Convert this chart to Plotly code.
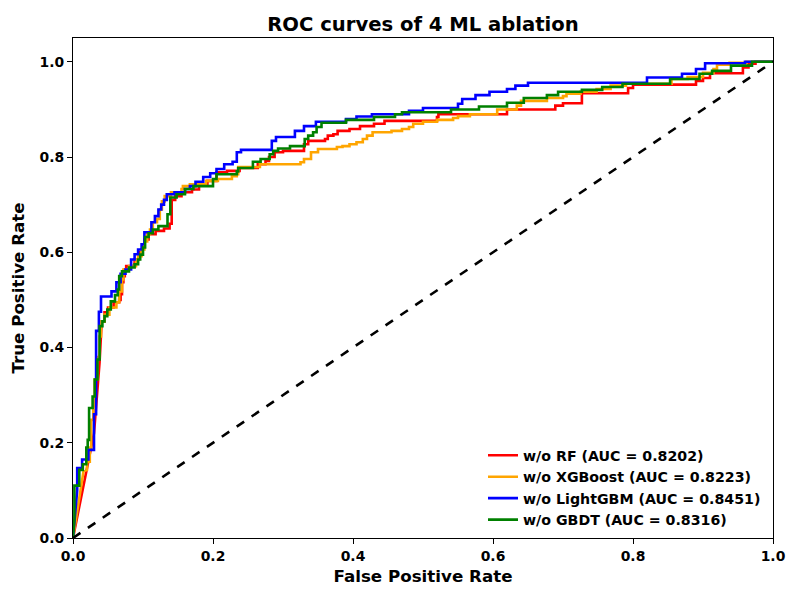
import plotly.graph_objects as go

names = ["w/o RF (AUC = 0.8202)", "w/o XGBoost (AUC = 0.8223)",
         "w/o LightGBM (AUC = 0.8451)", "w/o GBDT (AUC = 0.8316)"]
colors = ["red", "orange", "blue", "green"]

rf_fpr = [0, 0.03, 0.038, 0.041, 0.045, 0.045, 0.05, 0.05, 0.058, 0.058, 0.066, 0.066, 0.068, 0.068, 0.07, 0.07, 0.072, 0.072, 0.074, 0.074, 0.076, 0.076, 0.088, 0.088, 0.094, 0.094, 0.099, 0.099, 0.102, 0.102, 0.108, 0.108, 0.118, 0.118, 0.13, 0.13, 0.138, 0.138, 0.141, 0.141, 0.146, 0.146, 0.155, 0.155, 0.17, 0.17, 0.18, 0.18, 0.192, 0.192, 0.205, 0.205, 0.22, 0.22, 0.238, 0.238, 0.264, 0.264, 0.275, 0.275, 0.28, 0.28, 0.288, 0.288, 0.3, 0.3, 0.33, 0.33, 0.336, 0.336, 0.36, 0.36, 0.364, 0.364, 0.372, 0.372, 0.378, 0.378, 0.395, 0.395, 0.41, 0.41, 0.43, 0.43, 0.445, 0.445, 0.52, 0.52, 0.522, 0.522, 0.62, 0.62, 0.689, 0.689, 0.7, 0.7, 0.727, 0.727, 0.793, 0.793, 0.8, 0.8, 0.89, 0.89, 0.9, 0.9, 0.91, 0.91, 0.957, 0.957, 0.965, 0.965, 0.975, 0.975, 1.0]
rf_tpr = [0, 0.22, 0.37, 0.455, 0.455, 0.474, 0.474, 0.484, 0.484, 0.495, 0.495, 0.5, 0.5, 0.512, 0.512, 0.537, 0.537, 0.55, 0.55, 0.564, 0.564, 0.571, 0.571, 0.585, 0.585, 0.6, 0.6, 0.613, 0.613, 0.627, 0.627, 0.638, 0.638, 0.645, 0.645, 0.65, 0.65, 0.66, 0.66, 0.71, 0.71, 0.718, 0.718, 0.726, 0.726, 0.732, 0.732, 0.743, 0.743, 0.75, 0.75, 0.768, 0.768, 0.771, 0.771, 0.777, 0.777, 0.785, 0.785, 0.792, 0.792, 0.8, 0.8, 0.81, 0.81, 0.813, 0.813, 0.827, 0.827, 0.834, 0.834, 0.838, 0.838, 0.845, 0.845, 0.848, 0.848, 0.855, 0.855, 0.859, 0.859, 0.865, 0.865, 0.87, 0.87, 0.876, 0.876, 0.884, 0.884, 0.89, 0.89, 0.9, 0.9, 0.908, 0.908, 0.913, 0.913, 0.934, 0.934, 0.945, 0.945, 0.952, 0.952, 0.96, 0.96, 0.966, 0.966, 0.976, 0.976, 0.988, 0.988, 0.996, 0.996, 1.0, 1.0]

xgb_fpr = [0, 0.015, 0.02, 0.02, 0.024, 0.024, 0.026, 0.026, 0.029, 0.029, 0.031, 0.031, 0.035, 0.035, 0.038, 0.038, 0.04, 0.04, 0.045, 0.045, 0.052, 0.052, 0.062, 0.062, 0.066, 0.066, 0.07, 0.07, 0.072, 0.072, 0.08, 0.08, 0.09, 0.09, 0.093, 0.093, 0.098, 0.098, 0.102, 0.102, 0.106, 0.106, 0.11, 0.11, 0.114, 0.114, 0.12, 0.12, 0.124, 0.124, 0.127, 0.127, 0.131, 0.131, 0.14, 0.14, 0.155, 0.155, 0.157, 0.157, 0.167, 0.167, 0.19, 0.19, 0.207, 0.207, 0.227, 0.227, 0.234, 0.234, 0.236, 0.236, 0.267, 0.267, 0.325, 0.325, 0.33, 0.33, 0.34, 0.34, 0.35, 0.35, 0.377, 0.377, 0.385, 0.385, 0.395, 0.395, 0.405, 0.405, 0.414, 0.414, 0.42, 0.42, 0.428, 0.428, 0.455, 0.455, 0.47, 0.47, 0.48, 0.48, 0.486, 0.486, 0.5, 0.5, 0.52, 0.52, 0.543, 0.543, 0.55, 0.55, 0.567, 0.567, 0.606, 0.606, 0.634, 0.634, 0.64, 0.64, 0.677, 0.677, 0.7, 0.7, 0.705, 0.705, 0.725, 0.725, 0.748, 0.748, 0.768, 0.768, 0.79, 0.79, 0.855, 0.855, 0.878, 0.878, 0.9, 0.9, 0.915, 0.915, 0.92, 0.92, 0.938, 0.938, 0.962, 0.962, 1.0]
xgb_tpr = [0, 0.14, 0.143, 0.16, 0.16, 0.19, 0.19, 0.248, 0.248, 0.276, 0.276, 0.333, 0.333, 0.38, 0.38, 0.423, 0.423, 0.455, 0.455, 0.469, 0.469, 0.484, 0.484, 0.495, 0.495, 0.518, 0.518, 0.543, 0.543, 0.564, 0.564, 0.571, 0.571, 0.585, 0.585, 0.592, 0.592, 0.606, 0.606, 0.623, 0.623, 0.638, 0.638, 0.648, 0.648, 0.663, 0.663, 0.67, 0.67, 0.69, 0.69, 0.707, 0.707, 0.718, 0.718, 0.726, 0.726, 0.733, 0.733, 0.739, 0.739, 0.743, 0.743, 0.75, 0.75, 0.754, 0.754, 0.76, 0.76, 0.764, 0.764, 0.779, 0.779, 0.785, 0.785, 0.789, 0.789, 0.796, 0.796, 0.81, 0.81, 0.817, 0.817, 0.821, 0.821, 0.823, 0.823, 0.827, 0.827, 0.831, 0.831, 0.838, 0.838, 0.845, 0.845, 0.852, 0.852, 0.855, 0.855, 0.859, 0.859, 0.863, 0.863, 0.87, 0.87, 0.874, 0.874, 0.878, 0.878, 0.882, 0.882, 0.886, 0.886, 0.89, 0.89, 0.9, 0.9, 0.908, 0.908, 0.918, 0.918, 0.924, 0.924, 0.928, 0.928, 0.933, 0.933, 0.937, 0.937, 0.943, 0.943, 0.95, 0.95, 0.954, 0.954, 0.964, 0.964, 0.968, 0.968, 0.977, 0.977, 0.985, 0.985, 0.994, 0.994, 0.998, 0.998, 1.0, 1.0]

lgbm_fpr = [0, 0.006, 0.006, 0.013, 0.013, 0.022, 0.022, 0.03, 0.03, 0.033, 0.033, 0.037, 0.037, 0.04, 0.04, 0.055, 0.055, 0.062, 0.062, 0.068, 0.068, 0.075, 0.075, 0.083, 0.083, 0.088, 0.088, 0.093, 0.093, 0.098, 0.098, 0.102, 0.102, 0.112, 0.112, 0.117, 0.117, 0.122, 0.122, 0.126, 0.126, 0.13, 0.13, 0.134, 0.134, 0.145, 0.145, 0.16, 0.16, 0.167, 0.167, 0.175, 0.175, 0.186, 0.186, 0.196, 0.196, 0.205, 0.205, 0.216, 0.216, 0.228, 0.228, 0.234, 0.234, 0.24, 0.24, 0.284, 0.284, 0.29, 0.29, 0.317, 0.317, 0.33, 0.33, 0.347, 0.347, 0.39, 0.39, 0.405, 0.405, 0.427, 0.427, 0.48, 0.48, 0.5, 0.5, 0.55, 0.55, 0.556, 0.556, 0.575, 0.575, 0.595, 0.595, 0.62, 0.62, 0.632, 0.632, 0.65, 0.65, 0.82, 0.82, 0.87, 0.87, 0.89, 0.89, 0.903, 0.903, 0.96, 0.96, 1.0]
lgbm_tpr = [0, 0.1, 0.147, 0.147, 0.165, 0.165, 0.185, 0.185, 0.26, 0.26, 0.435, 0.435, 0.475, 0.475, 0.507, 0.507, 0.518, 0.518, 0.537, 0.537, 0.555, 0.555, 0.564, 0.564, 0.585, 0.585, 0.596, 0.596, 0.606, 0.606, 0.617, 0.617, 0.642, 0.642, 0.663, 0.663, 0.676, 0.676, 0.69, 0.69, 0.7, 0.7, 0.71, 0.71, 0.722, 0.722, 0.726, 0.726, 0.733, 0.733, 0.739, 0.739, 0.748, 0.748, 0.758, 0.758, 0.766, 0.766, 0.775, 0.775, 0.785, 0.785, 0.79, 0.79, 0.81, 0.81, 0.815, 0.815, 0.834, 0.834, 0.842, 0.842, 0.855, 0.855, 0.865, 0.865, 0.874, 0.874, 0.88, 0.88, 0.885, 0.885, 0.89, 0.89, 0.897, 0.897, 0.903, 0.903, 0.912, 0.912, 0.922, 0.922, 0.93, 0.93, 0.937, 0.937, 0.943, 0.943, 0.95, 0.95, 0.956, 0.956, 0.967, 0.967, 0.975, 0.975, 0.985, 0.985, 0.997, 0.997, 1.0, 1.0]

gbdt_fpr = [0, 0.002, 0.002, 0.009, 0.009, 0.014, 0.014, 0.019, 0.019, 0.021, 0.021, 0.023, 0.023, 0.028, 0.028, 0.031, 0.031, 0.035, 0.035, 0.038, 0.038, 0.042, 0.042, 0.045, 0.045, 0.049, 0.049, 0.054, 0.054, 0.06, 0.06, 0.064, 0.064, 0.066, 0.066, 0.07, 0.07, 0.08, 0.08, 0.088, 0.088, 0.093, 0.093, 0.096, 0.096, 0.1, 0.1, 0.103, 0.103, 0.108, 0.108, 0.114, 0.114, 0.122, 0.122, 0.135, 0.135, 0.139, 0.139, 0.148, 0.148, 0.16, 0.16, 0.172, 0.172, 0.2, 0.2, 0.205, 0.205, 0.234, 0.234, 0.236, 0.236, 0.257, 0.257, 0.268, 0.268, 0.281, 0.281, 0.286, 0.286, 0.293, 0.293, 0.31, 0.31, 0.331, 0.331, 0.336, 0.336, 0.343, 0.343, 0.348, 0.348, 0.355, 0.355, 0.39, 0.39, 0.43, 0.43, 0.46, 0.46, 0.47, 0.47, 0.54, 0.54, 0.58, 0.58, 0.62, 0.62, 0.644, 0.644, 0.677, 0.677, 0.693, 0.693, 0.727, 0.727, 0.756, 0.756, 0.785, 0.785, 0.853, 0.853, 0.895, 0.895, 0.913, 0.913, 0.94, 0.94, 0.97, 0.97, 1.0]
gbdt_tpr = [0, 0.04, 0.11, 0.11, 0.143, 0.143, 0.155, 0.155, 0.19, 0.19, 0.206, 0.206, 0.273, 0.273, 0.297, 0.297, 0.333, 0.333, 0.375, 0.375, 0.445, 0.445, 0.455, 0.455, 0.466, 0.466, 0.48, 0.48, 0.497, 0.497, 0.51, 0.51, 0.522, 0.522, 0.55, 0.55, 0.56, 0.56, 0.568, 0.568, 0.575, 0.575, 0.585, 0.585, 0.595, 0.595, 0.61, 0.61, 0.632, 0.632, 0.64, 0.64, 0.648, 0.648, 0.655, 0.655, 0.68, 0.68, 0.715, 0.715, 0.722, 0.722, 0.733, 0.733, 0.739, 0.739, 0.754, 0.754, 0.764, 0.764, 0.77, 0.77, 0.777, 0.777, 0.79, 0.79, 0.796, 0.796, 0.806, 0.806, 0.813, 0.813, 0.818, 0.818, 0.823, 0.823, 0.838, 0.838, 0.845, 0.845, 0.852, 0.852, 0.863, 0.863, 0.872, 0.872, 0.878, 0.878, 0.884, 0.884, 0.89, 0.89, 0.894, 0.894, 0.9, 0.9, 0.906, 0.906, 0.914, 0.914, 0.924, 0.924, 0.93, 0.93, 0.937, 0.937, 0.941, 0.941, 0.947, 0.947, 0.954, 0.954, 0.964, 0.964, 0.975, 0.975, 0.981, 0.981, 0.992, 0.992, 1.0, 1.0]

chance = [0, 1]
x_ticks = [0.0, 0.2, 0.4, 0.6, 0.8, 1.0]
y_ticks = [0.0, 0.2, 0.4, 0.6, 0.8, 1.0]

series = [(rf_fpr, rf_tpr), (xgb_fpr, xgb_tpr), (lgbm_fpr, lgbm_tpr), (gbdt_fpr, gbdt_tpr)]

FONT = "DejaVu Sans"
fig = go.Figure()
for (fx, ty), name, col in zip(series, names, colors):
    fig.add_trace(go.Scatter(x=fx, y=ty, mode="lines", name=name,
                             line=dict(color=col, width=2.6)))
fig.add_trace(go.Scatter(x=chance, y=chance, mode="lines", showlegend=False,
                         line=dict(color="black", width=2.6, dash="dash")))

axis_common = dict(
    showgrid=False, zeroline=False, showline=True, linecolor="black", linewidth=1.2,
    mirror=True, ticks="outside", ticklen=5, tickwidth=1.2, tickcolor="black",
    tickfont=dict(family=FONT, size=13.9, color="black", weight="bold"),
    tickformat=".1f",
)
fig.update_xaxes(range=[0, 1], tickvals=x_ticks,
                 title=dict(text="False Positive Rate", standoff=7,
                            font=dict(family=FONT, size=16.7, color="black", weight="bold")),
                 **axis_common)
fig.update_yaxes(range=[0, 1.05], tickvals=y_ticks,
                 title=dict(text="True Positive Rate", standoff=10,
                            font=dict(family=FONT, size=16.7, color="black", weight="bold")),
                 **axis_common)

fig.update_layout(
    width=800, height=600,
    margin=dict(l=65, r=35, t=30, b=70, autoexpand=False),
    paper_bgcolor="white", plot_bgcolor="white",
    title=dict(text="ROC curves of 4 ML ablation", x=0.5, xref="paper",
               y=1 - 16 / 600, yref="container", yanchor="middle",
               font=dict(family=FONT, size=19.6, color="black", weight="bold")),
    legend=dict(x=0.99, y=0.005, xanchor="right", yanchor="bottom",
                bgcolor="rgba(255,255,255,0)", borderwidth=0,
                font=dict(family=FONT, size=14.2, color="black", weight="bold"),
                tracegroupgap=0),
    showlegend=True,
)

fig.write_html("out.html")
